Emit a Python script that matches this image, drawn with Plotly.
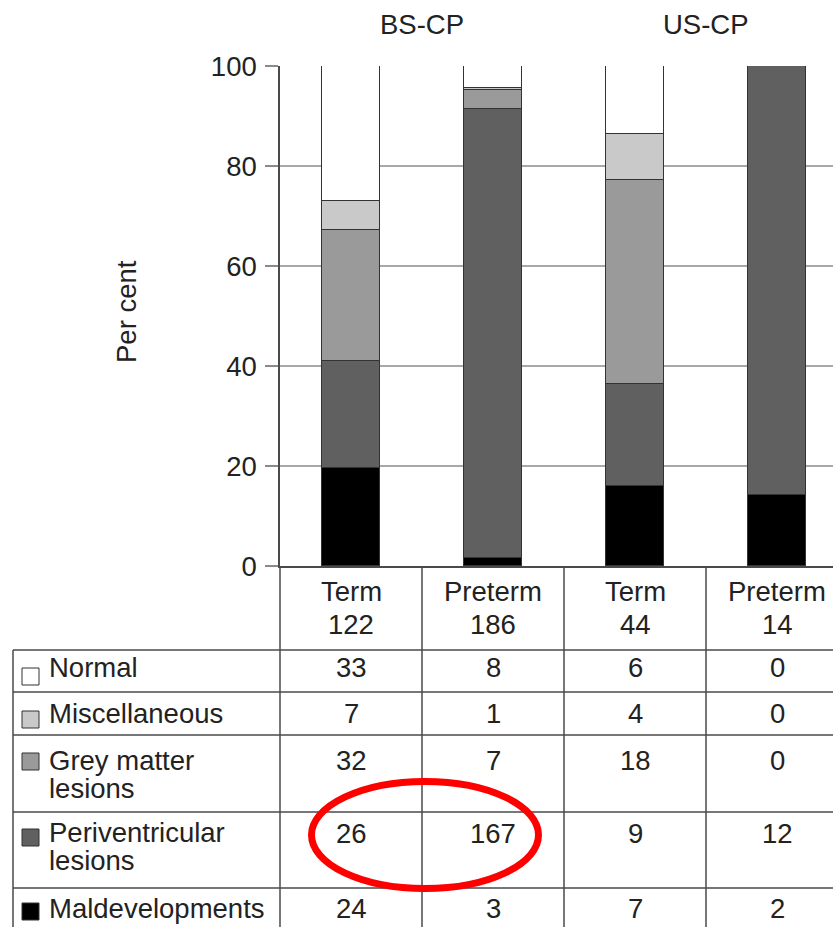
import plotly.graph_objects as go

# ---- data -------------------------------------------------------------
groups = ["BS-CP", "US-CP"]
columns = ["Term", "Preterm", "Term", "Preterm"]
totals = [122, 186, 44, 14]

categories = ["Normal", "Miscellaneous", "Grey matter lesions",
              "Periventricular lesions", "Maldevelopments"]
row_labels = [["Normal"], ["Miscellaneous"], ["Grey matter", "lesions"],
              ["Periventricular", "lesions"], ["Maldevelopments"]]

normal = [33, 8, 6, 0]
miscellaneous = [7, 1, 4, 0]
grey_matter = [32, 7, 18, 0]
periventricular = [26, 167, 9, 12]
maldevelopments = [24, 3, 7, 2]

counts = {
    "Normal": normal,
    "Miscellaneous": miscellaneous,
    "Grey matter lesions": grey_matter,
    "Periventricular lesions": periventricular,
    "Maldevelopments": maldevelopments,
}

y_ticks = [0, 20, 40, 60, 80, 100]

# ---- styling ----------------------------------------------------------
FONT = "Liberation Sans, Arial, Helvetica, sans-serif"
TXT = "#222222"
FS = 27.5
LINE = "#4a4a4a"
GRID = "#a8a8a8"
fills = {
    "Normal": "#ffffff",
    "Miscellaneous": "#c9c9c9",
    "Grey matter lesions": "#9a9a9a",
    "Periventricular lesions": "#606060",
    "Maldevelopments": "#000000",
}

W, H = 833, 927
PL, PR, PT, PB = 280, 833, 66, 566


def fx(px):
    return (px - PL) / (PR - PL)


def fy(py):
    return (PB - py) / (PB - PT)


xs = list(range(len(columns)))

fig = go.Figure()

# stacked bars, bottom category first
for cat in reversed(categories):
    vals = [100.0 * c / t for c, t in zip(counts[cat], totals)]
    fig.add_trace(go.Bar(
        x=xs, y=vals, width=0.41, name=cat,
        marker=dict(color=fills[cat], line=dict(color="#333333", width=1)),
        showlegend=False, hoverinfo="skip",
    ))

shapes = []
ann = []

# group headings
for gi, g in enumerate(groups):
    ann.append(dict(x=2 * gi + 0.5, xref="x", y=fy(25), yref="paper",
                    text=g, showarrow=False, xanchor="center", yanchor="middle",
                    font=dict(size=FS, color=TXT, family=FONT)))

# y-axis title
ann.append(dict(x=fx(126), xref="paper", y=fy(312), yref="paper",
                text="Per cent", textangle=-90, showarrow=False,
                xanchor="center", yanchor="middle",
                font=dict(size=FS, color=TXT, family=FONT)))

# column headers: group member and number of cases
for i, (c, t) in enumerate(zip(columns, totals)):
    ann.append(dict(x=i, xref="x", y=fy(591), yref="paper", text=c,
                    showarrow=False, xanchor="center", yanchor="middle",
                    font=dict(size=FS, color=TXT, family=FONT)))
    ann.append(dict(x=i, xref="x", y=fy(624), yref="paper", text=str(t),
                    showarrow=False, xanchor="center", yanchor="middle",
                    font=dict(size=FS, color=TXT, family=FONT)))

# table rows
row_text_y = [[667], [713], [760, 788], [832, 860], [908]]
row_value_y = [667, 713, 760, 833, 908]
swatch_top = [668, 711, 753, 829, 903]
for r, cat in enumerate(categories):
    for line, ly in zip(row_labels[r], row_text_y[r]):
        ann.append(dict(x=fx(47), xref="paper", y=fy(ly), yref="paper",
                        text=line, showarrow=False, xanchor="left",
                        yanchor="middle",
                        font=dict(size=FS, color=TXT, family=FONT)))
    for i, v in enumerate(counts[cat]):
        ann.append(dict(x=i, xref="x", y=fy(row_value_y[r]), yref="paper",
                        text=str(v), showarrow=False, xanchor="center",
                        yanchor="middle",
                        font=dict(size=FS, color=TXT, family=FONT)))
    st = swatch_top[r]
    shapes.append(dict(type="rect", xref="paper", yref="paper",
                       x0=fx(22), x1=fx(39), y0=fy(st), y1=fy(st + 17),
                       fillcolor=fills[cat], line=dict(color="#333333", width=1)))

# table rules
for ry in [650, 692, 735, 812, 888]:
    shapes.append(dict(type="line", xref="paper", yref="paper",
                       x0=fx(13), x1=1, y0=fy(ry), y1=fy(ry),
                       line=dict(color=LINE, width=1.5)))
shapes.append(dict(type="line", xref="paper", yref="paper",
                   x0=fx(13), x1=fx(13), y0=fy(650), y1=fy(H + 5),
                   line=dict(color=LINE, width=1.5)))
shapes.append(dict(type="line", xref="paper", yref="paper",
                   x0=0, x1=0, y0=0, y1=fy(H + 5),
                   line=dict(color=LINE, width=1.5)))
for b in [0.5, 1.5, 2.5]:
    shapes.append(dict(type="line", xref="x", yref="paper",
                       x0=b, x1=b, y0=0, y1=fy(H + 5),
                       line=dict(color=LINE, width=1.5)))

# highlight ring around the periventricular counts
shapes.append(dict(type="circle", xref="paper", yref="paper",
                   x0=fx(311.5), x1=fx(538.5), y0=fy(781.5), y1=fy(888.5),
                   line=dict(color="#ff0000", width=7)))

fig.update_layout(
    width=W, height=H,
    margin=dict(l=PL, r=W - PR, t=PT, b=H - PB, pad=0),
    paper_bgcolor="white", plot_bgcolor="white",
    barmode="stack", bargap=0,
    font=dict(family=FONT, size=FS, color=TXT),
    xaxis=dict(range=[-0.5, -0.5 + (PR - PL) / 142.0], showticklabels=False,
               ticks="", showgrid=False, zeroline=False,
               showline=True, linecolor=LINE, linewidth=1.5, fixedrange=True),
    yaxis=dict(range=[0, 100], tickvals=y_ticks, ticks="outside", ticklen=13,
               tickcolor="#8a8a8a", tickwidth=1.5,
               showgrid=True, gridcolor=GRID, gridwidth=1.5, zeroline=False,
               showline=True, linecolor=LINE, linewidth=1.5,
               tickfont=dict(size=FS, color=TXT, family=FONT),
               ticklabelstandoff=3, fixedrange=True),
    shapes=shapes,
    annotations=ann,
)

fig.write_html("out.html")
